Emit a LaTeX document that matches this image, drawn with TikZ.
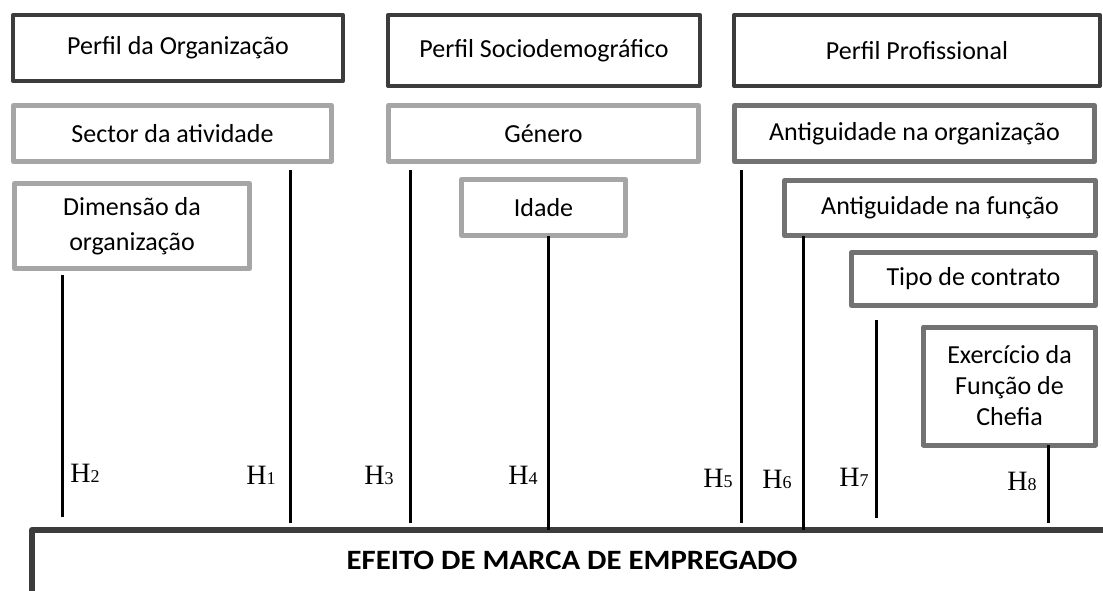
\documentclass[tikz,border=0pt]{standalone}
\usepackage{fontspec}
\setmainfont{Carlito}
\newfontfamily\hfont{Liberation Serif}
\usetikzlibrary{positioning,calc}
\definecolor{escuro}{HTML}{3C3C3C}
\definecolor{claro}{HTML}{A6A6A6}
\definecolor{medio}{HTML}{727272}
\newcommand\txtfont{\fontsize{26}{31}\selectfont}
\newcommand\hip[1]{H{\fontsize{18}{18}\selectfont#1}}

\begin{document}
\begin{tikzpicture}[x=1pt, y=-1pt, line join=round,
  perfil/.style={draw=escuro, line width=4pt, inner sep=0pt, outer sep=0pt, font=\txtfont},
  varclaro/.style={draw=claro, line width=5pt, inner sep=0pt, outer sep=0pt, font=\txtfont, align=center},
  varmedio/.style={draw=medio, line width=5pt, inner sep=0pt, outer sep=0pt, font=\txtfont, align=center},
  hlinha/.style={line width=3pt},
  hlab/.style={inner sep=0pt, font=\hfont\fontsize{28}{30}\selectfont}]
\useasboundingbox (0,0) rectangle (1103,590);
\fill[white] (0,0) rectangle (1103,590);
\node[perfil, minimum width=330, minimum height=66] (porg)  at (178,48)    {Perfil da Organização};
\node[perfil, minimum width=312, minimum height=71] (psoc)  at (544,50.5)  {Perfil Sociodemográfico};
\node[perfil, minimum width=366, minimum height=71] (pprof) at (917,50.5)  {Perfil Profissional};
\node[varclaro, minimum width=318, minimum height=56] (sector)   at (172.5,133.5) {Sector da atividade};
\node[varclaro, minimum width=310, minimum height=56] (genero)   at (543.5,133.5) {Género};
\node[varclaro, minimum width=235, minimum height=85] (dimensao) at (132,226)     {Dimensão da\\[4pt]organização};
\node[varclaro, minimum width=164, minimum height=56] (idade)    at (543.5,207.5) {Idade};
\node[varmedio, minimum width=360, minimum height=56] (antorg) at (914.5,133.5) {Antiguidade na organização};
\node[varmedio, minimum width=311, minimum height=55] (antfun) at (940,208)     {Antiguidade na função};
\node[varmedio, minimum width=244, minimum height=53] (tipo)   at (973.5,279)   {Tipo de contrato};
\node[varmedio, minimum width=172, minimum height=118] (chefia) at (1009.5,386) {Exercício da\\Função de\\Chefia};
\node[draw=escuro, line width=6pt, inner sep=0pt, outer sep=0pt, minimum width=1080, minimum height=80,
  text depth=20pt, font=\fontsize{28}{30}\selectfont\bfseries] (efeito) at (572,570) {\scalebox{1.1}[1]{EFEITO DE MARCA DE EMPREGADO}};
\coordinate (t2) at (62,275);   \coordinate (b2) at (62,517);
\coordinate (t1) at (290,170);  \coordinate (b1) at (290,523);
\coordinate (t3) at (410,170);  \coordinate (b3) at (410,523);
\coordinate (t4) at (548,0);
\coordinate (t5) at (741,170);  \coordinate (b5) at (741,523);
\coordinate (t6) at (803,0);
\coordinate (t7) at (876,320);  \coordinate (b7) at (876,518);
\coordinate (t8) at (1048,0);   \coordinate (b8) at (1048,523);
\draw[hlinha] (t2)--(b2) (t1)--(b1) (t3)--(b3) (t5)--(b5) (t7)--(b7);
\draw[hlinha] (t4 |- idade.south)--(t4 |- efeito.north);
\draw[hlinha] (t6 |- antfun.south)--(t6 |- efeito.north);
\draw[hlinha] (t8 |- chefia.south)--(b8);
\node[hlab] (h2) at (85,473)  {\hip{2}};
\node[hlab] (h1) at (261,475) {\hip{1}};
\node[hlab] (h3) at (379,475) {\hip{3}};
\node[hlab] (h4) at (523,475) {\hip{4}};
\node[hlab] (h5) at (718,478) {\hip{5}};
\node[hlab] (h6) at (777,479) {\hip{6}};
\node[hlab] (h7) at (854,477) {\hip{7}};
\node[hlab] (h8) at (1022,481) {\hip{8}};
\end{tikzpicture}
\end{document}
